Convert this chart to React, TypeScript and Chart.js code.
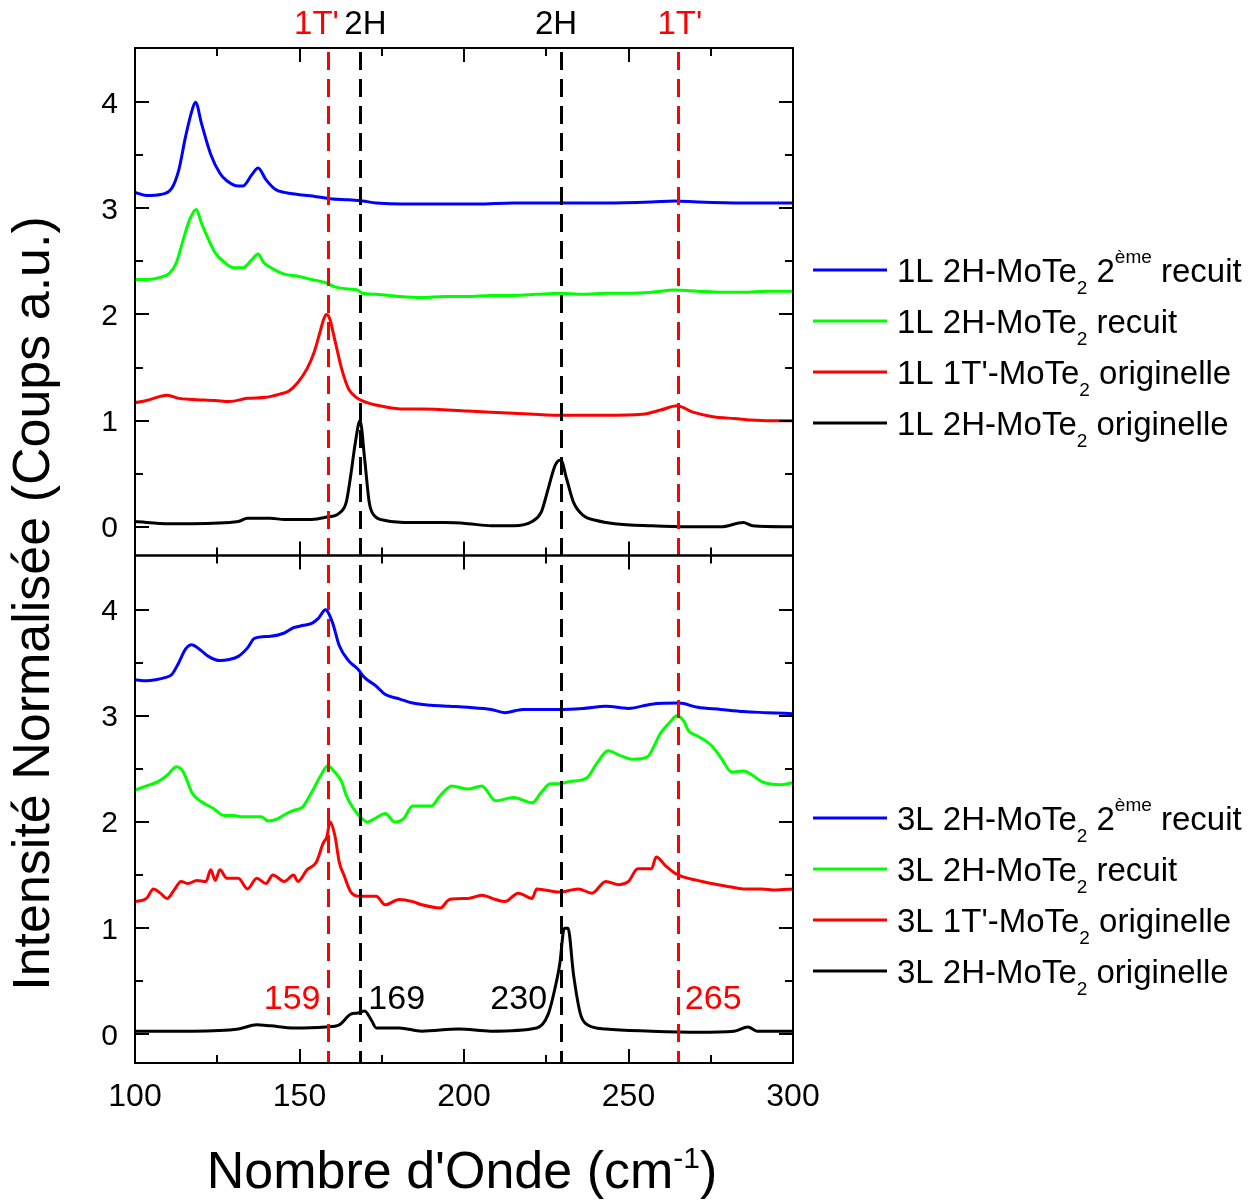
import React, { useEffect, useRef } from 'react';
import { Chart, registerables } from 'chart.js';

Chart.register(...registerables);

// ---------- DATA (wavenumber cm-1, normalised intensity) ----------
const top1L_2eRecuit: [number, number][] = [
  [100, 3.15], [103.5, 3.12], [107.7, 3.13], [111.2, 3.19], [113.3, 3.36], [115.4, 3.68], [117.4, 3.93],
  [118.4, 4.0], [120.2, 3.8], [123.0, 3.51], [125.8, 3.33], [127.9, 3.26], [131.4, 3.21], [132.8, 3.21],
  [135.6, 3.32], [137.4, 3.38], [139.8, 3.27], [142.6, 3.18], [145.4, 3.15], [149.5, 3.13], [155.1, 3.11],
  [159.3, 3.09], [164.9, 3.08], [169.1, 3.07], [173.3, 3.05], [187.2, 3.04], [204.0, 3.04], [215.1, 3.05],
  [229.1, 3.05], [243.1, 3.05], [257.0, 3.06], [264.0, 3.07], [271.0, 3.06], [284.9, 3.05], [300, 3.05],
];
const top1L_recuit: [number, number][] = [
  [100, 2.33], [103.5, 2.33], [107.7, 2.35], [110.5, 2.39], [112.6, 2.49], [114.7, 2.71], [116.7, 2.9],
  [118.6, 2.99], [120.2, 2.86], [122.3, 2.71], [124.4, 2.58], [127.2, 2.49], [130.0, 2.44], [132.8, 2.44],
  [135.6, 2.52], [137.4, 2.57], [139.1, 2.49], [141.9, 2.43], [145.4, 2.38], [149.5, 2.36], [153.7, 2.33],
  [157.9, 2.3], [160.7, 2.26], [164.9, 2.24], [167.7, 2.23], [169.1, 2.2], [173.3, 2.19], [180.3, 2.17],
  [187.2, 2.16], [194.0, 2.17], [201.2, 2.17], [208.0, 2.18], [215.1, 2.18], [222.0, 2.19], [229.1, 2.2],
  [236.1, 2.19], [243.1, 2.2], [250.0, 2.2], [257.0, 2.21], [264.0, 2.23], [271.0, 2.22], [278.0, 2.21],
  [284.9, 2.21], [292.0, 2.22], [300, 2.22],
];
const top1L_1T_orig: [number, number][] = [
  [100, 1.17], [103.5, 1.19], [109.8, 1.24], [113.3, 1.21], [117.4, 1.2], [124.4, 1.19], [128.6, 1.18],
  [134.2, 1.21], [139.8, 1.22], [144.0, 1.25], [146.8, 1.28], [149.5, 1.36], [152.3, 1.49], [154.4, 1.64],
  [156.2, 1.83], [157.4, 1.96], [158.2, 2.0], [159.3, 1.95], [160.0, 1.86], [161.4, 1.67], [162.8, 1.49],
  [164.9, 1.3], [167.7, 1.21], [170.5, 1.17], [176.1, 1.13], [181.6, 1.11], [187.2, 1.11], [201.2, 1.09],
  [215.1, 1.07], [229.1, 1.05], [243.1, 1.05], [254.2, 1.06], [259.8, 1.1], [264.7, 1.14], [269.6, 1.08],
  [275.2, 1.04], [282.1, 1.02], [291.9, 1.0], [300, 1.0],
];
const top1L_2H_orig: [number, number][] = [
  [100, 0.05], [110.5, 0.03], [117.4, 0.03], [131.4, 0.05], [134.2, 0.08], [141.2, 0.08], [145.4, 0.07],
  [153.7, 0.07], [157.9, 0.09], [162.1, 0.13], [164.2, 0.23], [165.6, 0.49], [167.0, 0.8], [168.4, 1.0],
  [169.8, 0.64], [171.2, 0.23], [172.6, 0.11], [176.1, 0.06], [184.4, 0.04], [194.2, 0.04], [201.2, 0.03],
  [208.2, 0.01], [215.1, 0.01], [220.7, 0.05], [223.5, 0.14], [225.6, 0.36], [227.7, 0.58], [229.4, 0.63],
  [231.2, 0.45], [233.3, 0.23], [236.1, 0.11], [240.3, 0.06], [245.8, 0.03], [257.0, 0.01], [268.2, 0.0],
  [278.0, 0.0], [284.9, 0.04], [287.7, 0.01], [300, 0.0],
];

const bot3L_2eRecuit: [number, number][] = [
  [100, 3.34], [103.5, 3.33], [106.3, 3.34], [109.1, 3.36], [111.2, 3.39], [113.3, 3.5], [115.4, 3.63],
  [117.2, 3.67], [119.5, 3.63], [122.3, 3.56], [125.8, 3.52], [128.6, 3.53], [131.4, 3.56], [134.2, 3.64],
  [136.3, 3.73], [141.2, 3.75], [145.4, 3.78], [148.2, 3.83], [150.9, 3.85], [153.7, 3.87], [155.8, 3.92],
  [157.9, 4.0], [160.0, 3.88], [162.1, 3.66], [164.9, 3.52], [167.7, 3.44], [169.8, 3.36], [173.3, 3.28],
  [176.1, 3.2], [180.3, 3.16], [184.4, 3.12], [190.0, 3.1], [195.6, 3.09], [201.2, 3.08], [208.2, 3.06],
  [212.4, 3.03], [217.9, 3.06], [229.1, 3.06], [236.1, 3.07], [243.1, 3.09], [250.0, 3.07], [257.0, 3.11],
  [265.4, 3.12], [271.0, 3.08], [278.0, 3.06], [284.9, 3.04], [291.9, 3.03], [300, 3.02],
];
const bot3L_recuit: [number, number][] = [
  [100, 2.3], [103.5, 2.34], [107.0, 2.38], [109.8, 2.44], [112.6, 2.52], [114.7, 2.47], [117.4, 2.27],
  [120.2, 2.19], [123.7, 2.13], [127.2, 2.06], [130.0, 2.06], [132.8, 2.05], [138.4, 2.05], [140.5, 2.01],
  [143.3, 2.03], [146.1, 2.08], [148.2, 2.11], [150.9, 2.14], [153.7, 2.28], [156.5, 2.44], [158.6, 2.53],
  [160.7, 2.47], [162.8, 2.38], [164.2, 2.25], [166.3, 2.13], [169.1, 2.03], [170.5, 2.0], [173.3, 2.04],
  [176.1, 2.08], [178.9, 2.0], [181.6, 2.03], [184.4, 2.15], [190.0, 2.15], [192.8, 2.25], [196.3, 2.34],
  [201.2, 2.31], [205.4, 2.34], [209.6, 2.2], [215.1, 2.23], [220.7, 2.18], [223.5, 2.28], [226.3, 2.36],
  [229.1, 2.36], [231.9, 2.38], [237.5, 2.42], [240.3, 2.55], [243.8, 2.67], [247.2, 2.63], [251.4, 2.59],
  [255.6, 2.61], [259.8, 2.84], [262.6, 2.94], [264.7, 3.0], [266.8, 2.95], [268.2, 2.86], [271.0, 2.81],
  [275.2, 2.72], [278.0, 2.61], [281.4, 2.47], [284.9, 2.48], [287.7, 2.44], [290.5, 2.38], [296.1, 2.35],
  [300, 2.37],
];
const bot3L_1T_orig: [number, number][] = [
  [100, 1.25], [103.5, 1.28], [105.6, 1.37], [107.7, 1.33], [109.8, 1.28], [111.9, 1.36], [114.0, 1.44],
  [116.1, 1.42], [118.8, 1.45], [121.6, 1.44], [123.0, 1.55], [124.4, 1.45], [125.8, 1.55], [127.9, 1.47],
  [131.4, 1.47], [134.2, 1.37], [137.0, 1.47], [139.8, 1.42], [141.9, 1.5], [145.4, 1.44], [148.2, 1.5],
  [149.5, 1.44], [152.3, 1.55], [155.1, 1.62], [157.2, 1.8], [158.3, 1.86], [159.3, 2.0], [160.7, 1.88],
  [162.1, 1.62], [163.5, 1.5], [165.6, 1.34], [168.4, 1.3], [173.3, 1.3], [176.1, 1.22], [180.3, 1.27],
  [184.4, 1.25], [187.2, 1.22], [192.8, 1.19], [195.6, 1.27], [201.2, 1.28], [205.4, 1.31], [209.6, 1.27],
  [212.4, 1.25], [216.5, 1.33], [220.7, 1.28], [222.1, 1.37], [229.1, 1.34], [234.7, 1.37], [238.9, 1.33],
  [243.1, 1.44], [247.2, 1.41], [250.0, 1.44], [252.8, 1.56], [257.0, 1.56], [258.4, 1.67], [261.2, 1.59],
  [264.0, 1.52], [266.8, 1.48], [271.0, 1.45], [275.2, 1.42], [280.7, 1.39], [284.9, 1.37], [290.5, 1.37],
  [294.7, 1.36], [300, 1.37],
];
const bot3L_2H_orig: [number, number][] = [
  [100, 0.03], [117.4, 0.03], [131.4, 0.05], [137.0, 0.09], [141.2, 0.08], [148.2, 0.06], [157.9, 0.07],
  [162.1, 0.09], [165.6, 0.19], [167.7, 0.2], [169.8, 0.22], [171.9, 0.13], [173.3, 0.06], [180.3, 0.06],
  [187.2, 0.03], [198.4, 0.05], [208.2, 0.03], [222.1, 0.06], [225.6, 0.19], [227.7, 0.44], [229.1, 0.66],
  [230.5, 1.0], [231.6, 1.0], [233.3, 0.56], [235.4, 0.19], [237.5, 0.09], [243.1, 0.05], [257.0, 0.03],
  [271.0, 0.02], [282.1, 0.03], [286.3, 0.07], [289.1, 0.03], [300, 0.03],
];

const xMajorTicks = [100, 150, 200, 250, 300];
const xMinorTicks = [125, 175, 225, 275];
const yMajorTicks = [0, 1, 2, 3, 4];
const yMinorTicks = [0.5, 1.5, 2.5, 3.5];

// positions where the dashed reference lines sit, and the values printed next to them
const markerPositions = [158.8, 168.5, 229.5, 265];
const markerValues = ['159', '169', '230', '265'];
const markerPhases = ["1T'", '2H', '2H', "1T'"];

type Part = { t: string; k?: 'sub' | 'sup' };
const legendTopLabels: Part[][] = [
  [{ t: '1L 2H-MoTe' }, { t: '2', k: 'sub' }, { t: ' 2' }, { t: 'ème', k: 'sup' }, { t: ' recuit' }],
  [{ t: '1L 2H-MoTe' }, { t: '2', k: 'sub' }, { t: ' recuit' }],
  [{ t: "1L 1T'-MoTe" }, { t: '2', k: 'sub' }, { t: ' originelle' }],
  [{ t: '1L 2H-MoTe' }, { t: '2', k: 'sub' }, { t: ' originelle' }],
];
const legendBotLabels: Part[][] = [
  [{ t: '3L 2H-MoTe' }, { t: '2', k: 'sub' }, { t: ' 2' }, { t: 'ème', k: 'sup' }, { t: ' recuit' }],
  [{ t: '3L 2H-MoTe' }, { t: '2', k: 'sub' }, { t: ' recuit' }],
  [{ t: "3L 1T'-MoTe" }, { t: '2', k: 'sub' }, { t: ' originelle' }],
  [{ t: '3L 2H-MoTe' }, { t: '2', k: 'sub' }, { t: ' originelle' }],
];
const yTitle = 'Intensité Normalisée (Coups a.u.)';
const xTitle: Part[] = [{ t: "Nombre d'Onde (cm" }, { t: '-1', k: 'sup' }, { t: ')' }];

// ---------- STYLE ----------
const FONT = '"Liberation Sans", Arial, Helvetica, sans-serif';
const COLORS = ['#0000ff', '#00ff00', '#ff0000', '#000000'];
const Y_MIN = -0.27;
const Y_MAX = 4.51;

function drawRich(
  ctx: CanvasRenderingContext2D,
  parts: Part[],
  x: number,
  y: number,
  size: number,
  small: number,
  subDy: number,
  supDy: number
) {
  let cx = x;
  ctx.textAlign = 'left';
  ctx.textBaseline = 'alphabetic';
  for (const p of parts) {
    const s = p.k ? small : size;
    ctx.font = `${s}px ${FONT}`;
    const dy = p.k === 'sub' ? subDy : p.k === 'sup' ? -supDy : 0;
    ctx.fillText(p.t, cx, y + dy);
    cx += ctx.measureText(p.t).width;
  }
  return cx - x;
}

function richWidth(ctx: CanvasRenderingContext2D, parts: Part[], size: number, small: number) {
  let w = 0;
  for (const p of parts) {
    ctx.font = `${p.k ? small : size}px ${FONT}`;
    w += ctx.measureText(p.t).width;
  }
  return w;
}

const decorPlugin = {
  id: 'decor',
  afterDatasetsDraw(chart: any) {
    const ctx: CanvasRenderingContext2D = chart.ctx;
    const xs = chart.scales.x;
    const panels = [chart.scales.yTop, chart.scales.yBot];
    const area = chart.chartArea;
    ctx.save();

    // dashed marker lines
    ctx.lineWidth = 3;
    ctx.setLineDash([18, 9]);
    markerPositions.forEach((w, i) => {
      const px = Math.round(xs.getPixelForValue(w)) + 0.5;
      ctx.strokeStyle = markerPhases[i] === '2H' ? '#000000' : '#ff0000';
      ctx.beginPath();
      ctx.moveTo(px, area.top + 4);
      ctx.lineTo(px, area.bottom);
      ctx.stroke();
    });
    ctx.setLineDash([]);

    // frames + ticks
    ctx.strokeStyle = '#000';
    ctx.fillStyle = '#000';
    ctx.lineWidth = 2;
    for (const ys of panels) {
      const top = ys.top;
      const bottom = ys.bottom;
      ctx.strokeRect(area.left, top, area.right - area.left, bottom - top);
      const tick = (vals: number[], len: number) => {
        for (const v of vals) {
          const px = Math.round(xs.getPixelForValue(v));
          ctx.beginPath();
          ctx.moveTo(px, top);
          ctx.lineTo(px, top + len);
          ctx.moveTo(px, bottom);
          ctx.lineTo(px, bottom - len);
          ctx.stroke();
        }
      };
      tick(xMajorTicks, 14);
      tick(xMinorTicks, 8);
      const ytick = (vals: number[], len: number) => {
        for (const v of vals) {
          const py = Math.round(ys.getPixelForValue(v));
          ctx.beginPath();
          ctx.moveTo(area.left, py);
          ctx.lineTo(area.left + len, py);
          ctx.moveTo(area.right, py);
          ctx.lineTo(area.right - len, py);
          ctx.stroke();
        }
      };
      ytick(yMajorTicks, 14);
      ytick(yMinorTicks, 8);
      ctx.font = `30px ${FONT}`;
      ctx.textAlign = 'right';
      ctx.textBaseline = 'alphabetic';
      for (const v of yMajorTicks) {
        const py = ys.getPixelForValue(v);
        ctx.fillText(String(v), area.left - 17, py + 10.5);
      }
    }

    // x tick labels
    ctx.font = `32px ${FONT}`;
    ctx.textAlign = 'center';
    for (const v of xMajorTicks) {
      ctx.fillText(String(v), xs.getPixelForValue(v), area.bottom + 43);
    }

    // phase labels above the plot
    const topOffsets = [-12, 5, -5, 2];
    ctx.font = `33px ${FONT}`;
    ctx.textAlign = 'center';
    markerPositions.forEach((w, i) => {
      ctx.fillStyle = markerPhases[i] === '2H' ? '#000' : '#ff0000';
      ctx.fillText(markerPhases[i], xs.getPixelForValue(w) + topOffsets[i], area.top - 14);
    });

    // wavenumber labels in lower panel
    const botAlign: CanvasTextAlign[] = ['right', 'left', 'right', 'left'];
    const botOffsets = [-8, 8, -14, 7];
    ctx.font = `34px ${FONT}`;
    markerPositions.forEach((w, i) => {
      ctx.fillStyle = markerPhases[i] === '2H' ? '#000' : '#ff0000';
      ctx.textAlign = botAlign[i];
      ctx.fillText(markerValues[i], xs.getPixelForValue(w) + botOffsets[i], area.bottom - 54);
    });

    // legends
    const legendX0 = area.right + 20;
    const legendX1 = area.right + 94;
    const drawLegend = (labels: Part[][], firstY: number) => {
      labels.forEach((parts, i) => {
        const y = firstY + i * 51;
        ctx.strokeStyle = COLORS[i];
        ctx.lineWidth = 3;
        ctx.beginPath();
        ctx.moveTo(legendX0, y);
        ctx.lineTo(legendX1, y);
        ctx.stroke();
        ctx.fillStyle = '#000';
        drawRich(ctx, parts, legendX1 + 10, y + 12, 33, 19, 12, 19);
      });
    };
    drawLegend(legendTopLabels, 270);
    drawLegend(legendBotLabels, 818);

    // axis titles
    ctx.fillStyle = '#000';
    ctx.save();
    ctx.translate(49, (area.top + area.bottom) / 2 + 48);
    ctx.rotate(-Math.PI / 2);
    ctx.font = `52px ${FONT}`;
    ctx.textAlign = 'center';
    ctx.textBaseline = 'alphabetic';
    ctx.fillText(yTitle, 0, 0);
    ctx.restore();

    const w = richWidth(ctx, xTitle, 52, 30);
    drawRich(ctx, xTitle, (area.left + area.right) / 2 - w / 2 - 2, area.bottom + 125, 52, 30, 0, 20);

    ctx.restore();
  },
};

const series = [
  { data: top1L_2eRecuit, axis: 'yTop', color: COLORS[0] },
  { data: top1L_recuit, axis: 'yTop', color: COLORS[1] },
  { data: top1L_1T_orig, axis: 'yTop', color: COLORS[2] },
  { data: top1L_2H_orig, axis: 'yTop', color: COLORS[3] },
  { data: bot3L_2eRecuit, axis: 'yBot', color: COLORS[0] },
  { data: bot3L_recuit, axis: 'yBot', color: COLORS[1] },
  { data: bot3L_1T_orig, axis: 'yBot', color: COLORS[2] },
  { data: bot3L_2H_orig, axis: 'yBot', color: COLORS[3] },
];

export default function App() {
  const ref = useRef<HTMLCanvasElement>(null);
  useEffect(() => {
    const hiddenY = (stackWeight: number) => ({
      type: 'linear' as const,
      position: 'left' as const,
      stack: 'panels',
      stackWeight,
      min: Y_MIN,
      max: Y_MAX,
      grid: { display: false },
      border: { display: false },
      ticks: { display: false },
      afterFit: (s: any) => {
        s.width = 0;
      },
    });
    const chart = new Chart(ref.current!, {
      type: 'line',
      data: {
        datasets: series.map((s) => ({
          data: s.data.map(([x, y]) => ({ x, y })),
          yAxisID: s.axis,
          borderColor: s.color,
          backgroundColor: s.color,
          borderWidth: 3,
          pointRadius: 0,
          cubicInterpolationMode: 'monotone',
          borderJoinStyle: 'round',
          fill: false,
        })),
      },
      options: {
        responsive: false,
        animation: false,
        devicePixelRatio: 1,
        layout: { padding: { left: 135, right: 462, top: 48, bottom: 138 } },
        plugins: { legend: { display: false }, tooltip: { enabled: false } },
        events: [],
        scales: {
          x: {
            type: 'linear',
            min: 100,
            max: 300,
            grid: { display: false },
            border: { display: false },
            ticks: { display: false },
            afterFit: (s: any) => {
              s.height = 0;
            },
          },
          yBot: hiddenY(1),
          yTop: hiddenY(1),
        },
      } as any,
      plugins: [decorPlugin],
    });
    return () => chart.destroy();
  }, []);
  return (
    <div style={{ position: 'absolute', left: 0, top: 0, width: 1255, height: 1201, background: '#fff' }}>
      <canvas ref={ref} width={1255} height={1201} style={{ display: 'block', width: 1255, height: 1201 }} />
    </div>
  );
}
